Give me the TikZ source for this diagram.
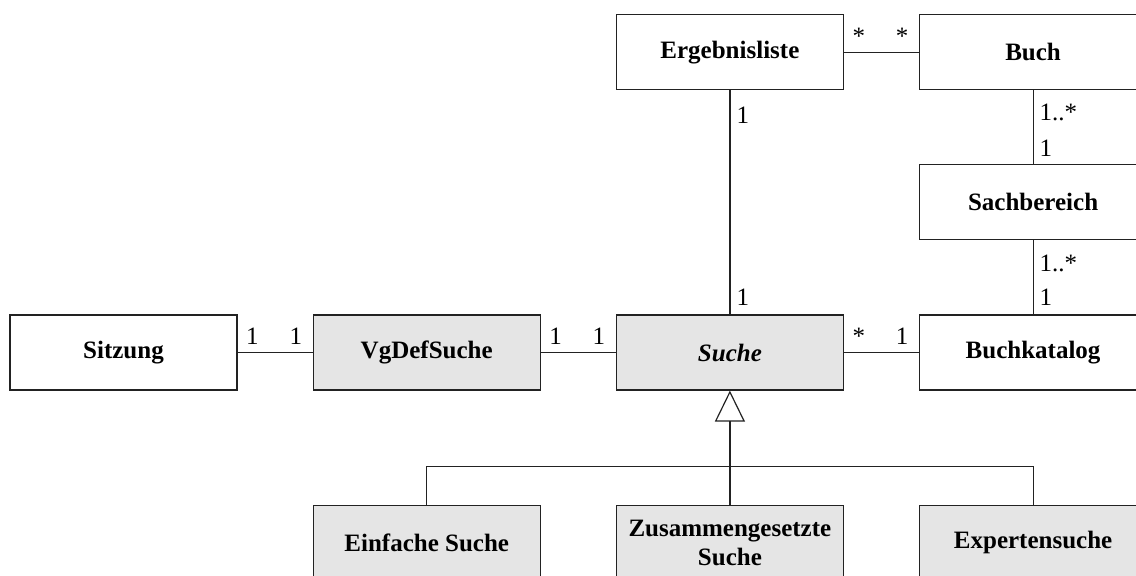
\documentclass[tikz,border=0pt]{standalone}
\usepackage{fontspec}
\setmainfont{Liberation Serif}
\usepackage{tikz}
\usetikzlibrary{positioning, arrows.meta}
\definecolor{classgray}{HTML}{E5E5E5}
\definecolor{classline}{HTML}{222222}

\tikzset{
  classbox/.style={draw=classline, line width=0.6pt, minimum width=113.5pt,
    minimum height=37.5pt, inner sep=2pt, align=center},
  abstractbox/.style={classbox, fill=classgray},
  mult/.style={inner sep=1pt},
  assoc/.style={draw=classline, line width=0.6pt},
}

\begin{document}
\begin{tikzpicture}[font=\fontsize{12.5}{14.5}\selectfont, node distance=37.5pt]
  \path[use as bounding box, clip] (-61.75pt,176.25pt) rectangle (506.25pt,-111.25pt);
  % Klassen
  \node[classbox] (sitzung) at (0,0) {\textbf{Sitzung}};
  \node[abstractbox, right=of sitzung] (vgdef) {\textbf{VgDefSuche}};
  \node[abstractbox, right=of vgdef] (suche) {\textbf{\textit{Suche}}};
  \node[classbox, right=of suche] (katalog) {\textbf{Buchkatalog}};
  \node[classbox, above=37pt of katalog] (sachbereich) {\textbf{Sachbereich}};
  \node[classbox, above=37pt of sachbereich] (buch) {\textbf{Buch}};
  \node[classbox, left=of buch] (ergebnis) {\textbf{Ergebnisliste}};
  \node[abstractbox, below=57pt of vgdef] (einfach) {\textbf{Einfache Suche}};
  \node[abstractbox, below=57pt of suche] (zus) {\textbf{Zusammengesetzte}\\\textbf{Suche}};
  \node[abstractbox, below=57pt of katalog] (experte) {\textbf{Expertensuche}};

  % Assoziationen
  \draw[assoc] (sitzung) -- node[mult, pos=0, above right=2.5pt and 3pt] {1}
    node[mult, pos=1, above left=2.5pt and 4pt] {1} (vgdef);
  \draw[assoc] (vgdef) -- node[mult, pos=0, above right=2.5pt and 3pt] {1}
    node[mult, pos=1, above left=2.5pt and 4pt] {1} (suche);
  \draw[assoc] (suche) -- node[mult, pos=0, above right=2.5pt and 3pt] {*}
    node[mult, pos=1, above left=2.5pt and 4pt] {1} (katalog);
  \draw[assoc] (ergebnis) -- node[mult, pos=0, above right=2.5pt and 3pt] {*}
    node[mult, pos=1, above left=2.5pt and 4pt] {*} (buch);
  \draw[assoc] (ergebnis) -- node[mult, pos=0, below right=7pt and 2pt] {1}
    node[mult, pos=1, above right=3pt and 2pt] {1} (suche);
  \draw[assoc] (buch) -- node[mult, pos=0, below right=5.5pt and 2pt] {1..*}
    node[mult, pos=1, above right=2.5pt and 2pt] {1} (sachbereich);
  \draw[assoc] (sachbereich) -- node[mult, pos=0, below right=6pt and 2pt] {1..*}
    node[mult, pos=1, above right=3pt and 2pt] {1} (katalog);

  % Generalisierung
  \coordinate[above=19pt of zus.north] (bus);
  \draw[assoc] (einfach.north) |- (bus) -| (experte.north);
  \draw[assoc, -{Triangle[open, length=15.5pt, width=15pt]}] (zus) -- (suche);
\end{tikzpicture}
\end{document}
